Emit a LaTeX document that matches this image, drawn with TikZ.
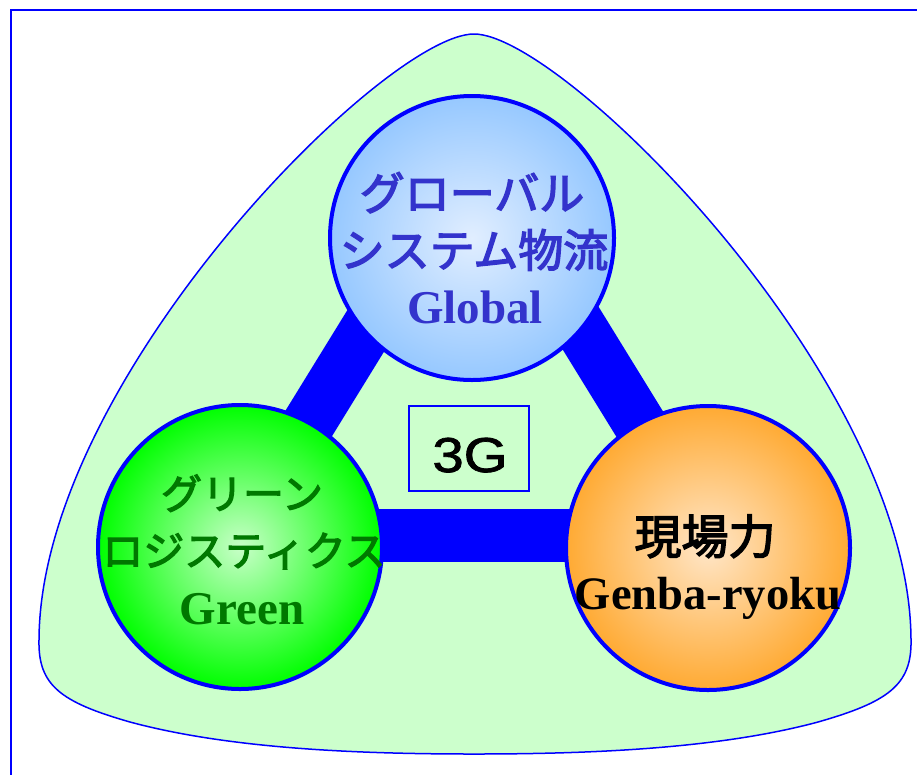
\documentclass[tikz,border=0pt]{standalone}
\usepackage{graphicx}
\usepackage{fontspec}
\setmainfont{Liberation Serif}
\newfontfamily\jpfont[FakeBold=3]{Noto Sans CJK JP}
\newfontfamily\sansf[FakeBold=1.5]{Liberation Sans}
\definecolor{bgreen}{RGB}{204,255,204}
\definecolor{tblue}{RGB}{51,51,204}
\definecolor{tgreen}{RGB}{0,120,0}
\definecolor{ballblueA}{RGB}{225,238,255}
\definecolor{ballblueB}{RGB}{150,200,255}
\definecolor{ballgreenA}{RGB}{200,255,200}
\definecolor{ballgreenB}{RGB}{0,255,0}
\definecolor{ballorA}{RGB}{255,230,200}
\definecolor{ballorB}{RGB}{255,170,51}
\begin{document}
\begin{tikzpicture}[x=1pt,y=-1pt,
  ball/.style={circle, draw=blue, line width=4pt, minimum size=284pt, inner sep=0pt},
  bar/.style={draw=blue, line width=53pt, line cap=butt},
  jptext/.style={anchor=base, inner sep=0pt, font=\jpfont\fontsize{#1}{#1}\selectfont},
  entext/.style={anchor=base, inner sep=0pt, font=\bfseries\fontsize{#1}{#1}\selectfont}]
\useasboundingbox (0,0) rectangle (917,774);
\clip (0,0) rectangle (917,774);
% frame
\draw[blue, line width=2.5pt] (11,800) -- (11,10) -- (940,10);
% outer rounded triangle
\path[fill=bgreen, draw=blue, line width=1.5pt]
  (474,34) .. controls (385,34) and (40,380) .. (39,640)
  .. controls (38,685) and (60,702) .. (130,722)
  .. controls (230,749) and (360,754) .. (474,754)
  .. controls (588,754) and (718,749) .. (818,722)
  .. controls (888,702) and (912,685) .. (911,640)
  .. controls (910,380) and (563,34) .. (474,34) -- cycle;
% bars
\coordinate (bl) at (240,535);
\coordinate (br) at (708,535);
\coordinate (ap) at (474,155);
\draw[bar] (bl) -- (br);
\draw[bar] (bl) -- (ap);
\draw[bar] (br) -- (ap);
% 3G box
\node[draw=blue, line width=1.5pt, minimum width=120pt, minimum height=85pt, inner sep=0pt] (g3) at (469,448.5) {};
\node[anchor=base, inner sep=0pt, font=\sansf\fontsize{49}{49}\selectfont] (g3t) at (470,472) {\scalebox{1.15}[1]{3G}};
% balls
\node[ball, inner color=ballblueA, outer color=ballblueB] (top) at (472,238) {};
\node[ball, inner color=ballgreenA, outer color=ballgreenB] (grn) at (240,547) {};
\node[ball, inner color=ballorA, outer color=ballorB] (gen) at (708,548) {};
% texts
\node[jptext=45, text=tblue] (t1) at (472,210) {グローバル};
\node[jptext=45, text=tblue] (t2) at (474,267) {システム物流};
\node[entext=47, text=tblue] (t3) at (475,323) {Global};
\node[jptext=41, text=tgreen] (g1) at (242,509) {グリーン};
\node[jptext=41, text=tgreen] (g2) at (244,566) {ロジスティクス};
\node[entext=47, text=tgreen] (g3x) at (242,624) {Green};
\node[jptext=47, text=black] (o1) at (705,554) {現場力};
\node[entext=46.5, text=black] (o2) at (708,609) {Genba-ryoku};
\end{tikzpicture}
\end{document}
